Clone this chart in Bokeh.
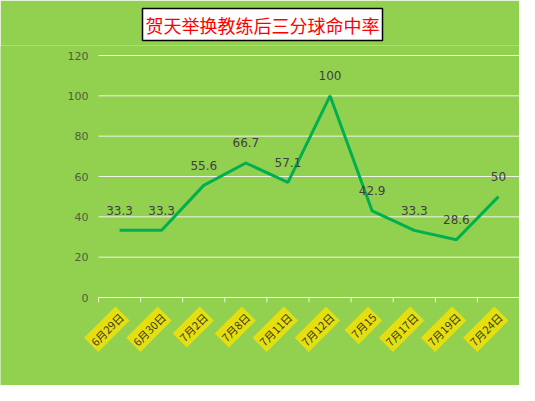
import numpy as np
from bokeh.plotting import figure
from bokeh.models import Range1d, ColumnDataSource
from bokeh.core.properties import value
from bokeh.embed import file_html
from bokeh.resources import INLINE

categories = ["6月29日", "6月30日", "7月2日", "7月8日", "7月11日",
              "7月12日", "7月15", "7月17日", "7月19日", "7月24日"]
rates = [33.3, 33.3, 55.6, 66.7, 57.1, 100, 42.9, 33.3, 28.6, 50]
yticks = [0, 20, 40, 60, 80, 100, 120]
title_text = "贺天举换教练后三分球命中率"

BG = "#92D050"
GRID = "#eef5e6"
n = len(categories)
xs = np.arange(n) + 0.5

W, H = 519, 385
TOP = 45                    # frame top (px)
plot_left_px = 98           # where the category axis starts
band_px = (W - plot_left_px) / n
x_start = -plot_left_px / band_px
px_per_unit = (297 - 55) / 120.0
y_end = (297 - TOP) / px_per_unit
y_start = -(H - 297) / px_per_unit

p = figure(width=W, height=H, output_backend="svg", toolbar_location=None,
           x_range=Range1d(x_start, n), y_range=Range1d(y_start, y_end),
           x_axis_location=None, y_axis_location=None,
           min_border_left=0, min_border_right=0,
           min_border_top=TOP, min_border_bottom=0)
p.background_fill_color = BG
p.border_fill_color = BG
p.outline_line_color = None
p.grid.visible = False

# title
p.title.text = title_text
p.title.align = "left"
p.title.offset = 142
p.title.standoff = 10
p.title.text_font = "Noto Sans CJK SC"
p.title.text_font_size = "18px"
p.title.text_font_style = "normal"
p.title.text_color = "#FF0000"
p.title.background_fill_color = "white"
p.title.border_line_color = "black"
p.title.border_line_width = 1.5
p.title.padding = 3

# horizontal grid lines and value-axis labels
yt = np.array(yticks, dtype=float)
p.segment(x0=np.zeros(len(yt)), y0=yt, x1=np.full(len(yt), n), y1=yt,
          line_color=GRID, line_width=1)
p.text(x=np.zeros(len(yt)), y=yt, text=[str(t) for t in yticks],
       x_offset=-10, text_align="right", text_baseline="middle",
       text_font=value("DejaVu Sans"), text_font_size="11px",
       text_color="#4f5f3f")

# category axis tick marks at boundaries
bounds = np.arange(n + 1)
p.segment(x0=bounds, y0=np.zeros(n + 1), x1=bounds, y1=np.full(n + 1, -2.4),
          line_color=GRID, line_width=1)

# series line and data labels
src = ColumnDataSource(dict(x=xs, y=rates, lab=[f"{v:g}" for v in rates]))
p.line("x", "y", source=src, line_color="#00B050", line_width=3)
p.text("x", "y", text="lab", source=src, text_align="center",
       text_baseline="middle", y_offset=-20,
       text_font=value("DejaVu Sans"), text_font_size="12px",
       text_color="#404040")

# category labels in yellow boxes
csrc = ColumnDataSource(dict(x=xs, y=np.zeros(n), lab=categories))
p.text("x", "y", text="lab", source=csrc, angle=np.pi / 4,
       text_align="right", text_baseline="middle",
       x_offset=3, y_offset=16,
       text_font=value("Noto Sans CJK SC"), text_font_size="11px",
       text_color="#3a3a20",
       background_fill_color="#e6df10", padding=2)

open("out.html", "w").write(file_html(p, INLINE))
